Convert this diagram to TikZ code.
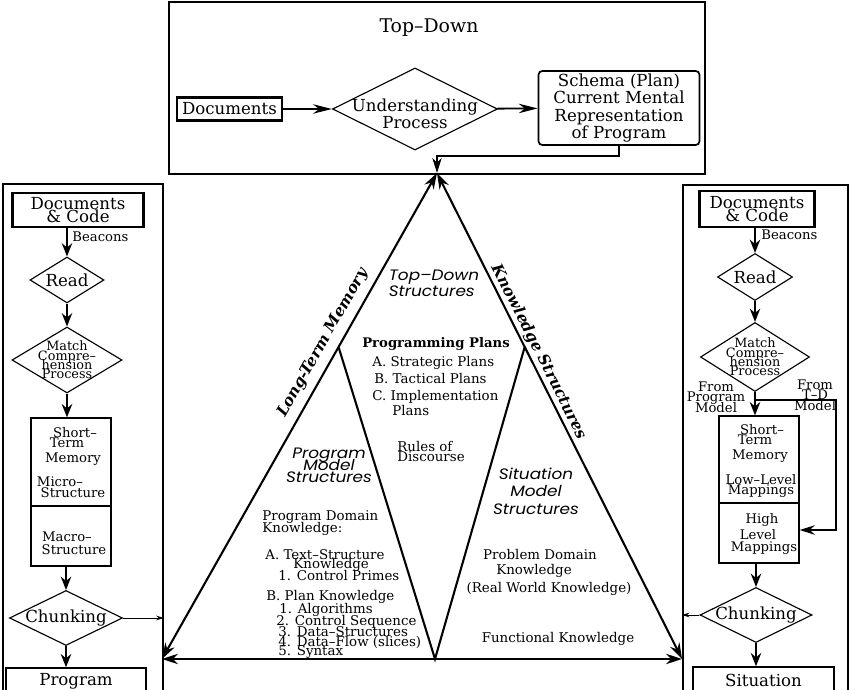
\documentclass[tikz,border=0pt]{standalone}
\usepackage{fontspec}
\setmainfont{DejaVu Serif}
\newfontfamily\geofont{Poppins}[FakeStretch=1.12]
\usepackage{tikz}
\usetikzlibrary{shapes.geometric}
\usetikzlibrary{arrows.meta}
\usetikzlibrary{calc}
\setlength{\lineskiplimit}{-20pt}
\newcommand{\pxu}{0.53pt}
\tikzset{
txt/.style={inner sep=0pt, align=center, font=\fontsize{8.8}{6.9}\selectfont},
small/.style={inner sep=0pt, align=center, font=\fontsize{7}{5.6}\selectfont},
lst/.style={inner sep=0pt, anchor=west, font=\fontsize{7.1}{7}\selectfont},
docbox/.style={draw, line width=1.1pt, inner sep=0pt, align=center, font=\fontsize{8.8}{6.9}\selectfont},
dia/.style={diamond, draw, line width=0.6pt, inner sep=0pt},
stmbox/.style={draw, line width=0.7pt, inner sep=0pt},
panel/.style={draw, line width=0.9pt, inner sep=0pt, anchor=north west},
struct/.style={inner sep=0pt, align=center, font=\geofont\itshape\fontsize{8}{9}\selectfont},
edgelbl/.style={inner sep=0pt, font=\bfseries\itshape\fontsize{8.2}{10}\selectfont},
flow/.style={line width=1.3pt, -{Stealth[length=7pt,width=5.5pt]}},
harrow/.style={line width=1pt, -{Stealth[length=10pt,width=5pt]}},
sflow/.style={line width=0.6pt, -{Stealth[length=8pt,width=5pt]}},
tiny/.style={line width=0.5pt, -{Stealth[length=4pt,width=2.5pt]}},
tri/.style={line width=1.1pt, {Stealth[length=8.5pt,width=5.5pt]}-{Stealth[length=8.5pt,width=5.5pt]}},
}

\begin{document}
\begin{tikzpicture}[x=0.53pt,y=-0.53pt]
\useasboundingbox (0,0) rectangle (850,690);
% top-down part
\node[panel, line width=1pt, minimum width=536*\pxu, minimum height=172*\pxu] (tdpanel) at (168,1) {};
\node[txt, font=\fontsize{10}{12}\selectfont] (tdtitle) at (429,28) {Top--Down};
\node[docbox, minimum width=105*\pxu, minimum height=23*\pxu] (tdoc) at (229.5,109) {Documents};
\node[dia, minimum width=165*\pxu, minimum height=82*\pxu,
  label={[txt, font=\fontsize{8.8}{9}\selectfont, yshift=-2.6pt]center:Understanding\\Process}] (und) at (415,109) {};
\node[docbox, line width=0.9pt, rounded corners=2pt, minimum width=161*\pxu, minimum height=74*\pxu,
  font=\fontsize{8.8}{9.2}\selectfont] (schema) at (619,108) {Schema (Plan)\\Current Mental\\Representation\\of Program};
\draw[harrow] (tdoc) -- (und);
\draw[harrow] (und) -- (schema);

% the triangle
\coordinate (apex) at (437,173);
\coordinate (lc) at (162,659);
\coordinate (rc) at (682,659);
\coordinate (vb) at (435,659);
\coordinate (li) at ($(apex)!.358!(lc)$);
\coordinate (ri) at ($(apex)!.358!(rc)$);
\draw[sflow] (schema.south) -- (619,156) -| (apex);
\draw[tri] (apex) -- (lc);
\draw[tri] (apex) -- (rc);
\draw[tri] (lc) -- (rc);
\draw[line width=1.1pt] (li) -- (vb) -- (ri);
\node[edgelbl, rotate=60.5] (ltm) at (323,343) {Long-Term Memory};
\node[edgelbl, rotate=-63.2] (kst) at (539,352) {Knowledge Structures};
\node[struct, align=left, font=\geofont\itshape\fontsize{8}{8.5}\selectfont] (tds) at (434,283) {Top\textendash Down\\Structures};
\node[struct, font=\geofont\itshape\fontsize{8}{6.4}\selectfont] (pms) at (329,465) {Program\\Model\\Structures};
\node[struct, font=\geofont\itshape\fontsize{8}{9.3}\selectfont] (sms) at (536,491) {Situation\\Model\\Structures};
\node[inner sep=0pt, font=\bfseries\fontsize{7}{8}\selectfont] (pplans) at (436,344) {Programming Plans};
\foreach \x/\y/\t [count=\i] in {372/363/A. Strategic Plans, 374/379/B. Tactical Plans,
  372/397/C. Implementation, 392/411/Plans}
  \node[lst] (pp\i) at (\x,\y) {\t};
\foreach \y/\t [count=\i] in {447/Rules of, 457/Discourse}
  \node[lst] (rod\i) at (397,\y) {\t};
\foreach \x/\y/\t [count=\i] in {262/517/Program Domain, 262/529/Knowledge:,
  265/555/A. Text--Structure, 293/565/Knowledge, 278/576/1. Control Primes,
  266/597/B. Plan Knowledge, 279/610/1. Algorithms, 276/622/2. Control Sequence,
  278/632/3. Data--Structures, 278/642/4. Data--Flow (slices), 278/652/5. Syntax}
  \node[lst] (pdk\i) at (\x,\y) {\t};
\foreach \x/\y/\t [count=\i] in {540/555/Problem Domain, 534/571/Knowledge,
  549/589/(Real World Knowledge), 558/639/Functional Knowledge}
  \node[lst, anchor=center] (sdk\i) at (\x,\y) {\t};

% left column
\node[panel, minimum width=160*\pxu, minimum height=520*\pxu] (lpanel) at (2,183) {};
\node[docbox, minimum width=131*\pxu, minimum height=34*\pxu] (ldoc) at (78,210) {Documents\\\& Code};
\node[small, anchor=west] (lbeac) at (72,237) {Beacons};
\node[dia, minimum width=74*\pxu, minimum height=46*\pxu, label={[txt]center:Read}] (lread) at (67,280) {};
\node[dia, minimum width=110*\pxu, minimum height=66*\pxu,
  label={[small, font=\fontsize{6.8}{5}\selectfont]center:Match\\Compre--\\hension\\Process}] (lmatch) at (67,360) {};
\node[stmbox, minimum width=80*\pxu, minimum height=148*\pxu] (lstm) at (71,492) {};
\draw[line width=0.6pt] (lstm.west |- 0,506) -- (lstm.east |- 0,506);
\foreach \x/\y/\t [count=\i] in {75/433/Short--, 67/443/Term, 73/459/Memory, 60/482/Micro--,
  73/493/Structure, 67/537/Macro--, 74/550/Structure}
  \node[small] (lst\i) at (\x,\y) {\t};
\node[dia, minimum width=113*\pxu, minimum height=55*\pxu, label={[txt]center:Chunking}] (lchunk) at (66,618) {};
\node[docbox, line width=0.8pt, minimum width=140*\pxu, minimum height=26*\pxu] (lprog) at (76,681) {Program};
\draw[flow] (ldoc.south -| lread.north) -- (lread.north);
\draw[flow] (lread.south) -- (lmatch.north);
\draw[flow] (lmatch.south) -- (lmatch.south |- lstm.north);
\draw[flow] (lchunk.north |- lstm.south) -- (lchunk.north);
\draw[flow] (lchunk.south) -- (lchunk.south |- lprog.north);
\draw[tiny] (lchunk.east) -- (lchunk.east -| lpanel.east);

% right column
\node[panel, minimum width=165*\pxu, minimum height=520*\pxu] (rpanel) at (682,184) {};
\node[docbox, minimum width=115*\pxu, minimum height=36*\pxu] (rdoc) at (757,209) {Documents\\\& Code};
\node[small, anchor=west] (rbeac) at (761,235) {Beacons};
\node[dia, minimum width=75*\pxu, minimum height=47*\pxu, label={[txt]center:Read}] (rread) at (755,277) {};
\node[dia, minimum width=109*\pxu, minimum height=69*\pxu,
  label={[small, font=\fontsize{6.8}{5}\selectfont]center:Match\\Compre--\\hension\\Process}] (rmatch) at (755,357) {};
\node[small] (rfpm) at (716,397) {From\\Program\\Model};
\node[small] (rftd) at (815,395) {From\\T--D\\Model};
\node[stmbox, minimum width=80*\pxu, minimum height=147*\pxu] (rstm) at (759,489.5) {};
\draw[line width=0.6pt] (rstm.west |- 0,503) -- (rstm.east |- 0,503);
\foreach \x/\y/\t [count=\i] in {762/430/Short--, 755/440/Term, 760/456/Memory, 761/480/Low--Level,
  761/491/Mappings, 762/520/High, 758/535/Level, 764/548/Mappings}
  \node[small] (rst\i) at (\x,\y) {\t};
\node[dia, minimum width=112*\pxu, minimum height=55*\pxu, label={[txt]center:Chunking}] (rchunk) at (756,615) {};
\node[docbox, line width=0.8pt, minimum width=141*\pxu, minimum height=26*\pxu] (rsit) at (763.5,680) {Situation};
\coordinate (tdj) at (755,400);
\draw[flow] (rdoc.south -| rread.north) -- (rread.north);
\draw[flow] (rread.south) -- (rmatch.north);
\draw[flow] (rmatch.south) -- (rmatch.south |- rstm.north);
\draw[sflow, line width=0.8pt] (tdj) -| (836,530) -- (rstm.east |- 0,530);
\draw[flow] (rchunk.north |- rstm.south) -- (rchunk.north);
\draw[flow] (rchunk.south) -- (rchunk.south |- rsit.north);
\draw[tiny] (rchunk.west) -- (rchunk.west -| rpanel.west);
\end{tikzpicture}
\end{document}
